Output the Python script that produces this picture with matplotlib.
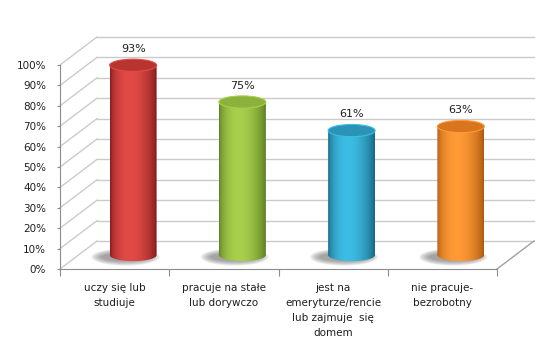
import matplotlib
matplotlib.use("Agg")
import matplotlib.pyplot as plt
import numpy as np
from matplotlib.patches import Ellipse, Polygon
from matplotlib.colors import to_rgb

# data
categories = ["uczy się lub\nstudiuje", "pracuje na stałe\nlub dorywczo",
              "jest na\nemeryturze/rencie\nlub zajmuje  się\ndomem",
              "nie pracuje-\nbezrobotny"]
values = [0.93, 0.75, 0.61, 0.63]
labels = ["93%", "75%", "61%", "63%"]
ticks = np.arange(0, 1.01, 0.1)
tick_labels = ["%d%%" % round(t * 100) for t in ticks]

# cylinder colours: (dark edge, light centre, top cap)
colors = [("#7a1a1a", "#e24a46", "#b83430"),
          ("#5a7a22", "#a8d04c", "#8db23c"),
          ("#17627c", "#3cbde3", "#2b93b5"),
          ("#a9560e", "#ff9a35", "#d9741f")]

fig = plt.figure(figsize=(5.38, 3.49), dpi=100)
ax = fig.add_axes([60 / 538, 80 / 349, 437 / 538, 204 / 349])
ax.set_xlim(-0.5, 3.5)
ax.set_ylim(0, 1)

# depth offset of the back wall (data units)
ddx = 37 / 109.25
ddy = 28 / 204.0
grid_c = "#cbcbcb"

for t in ticks:
    ax.plot([-0.5, -0.5 + ddx], [t, t + ddy], color=grid_c, lw=1, clip_on=False, zorder=1)
    ax.plot([-0.5 + ddx, 3.5 + ddx], [t + ddy, t + ddy], color=grid_c, lw=1, clip_on=False, zorder=1)
ax.plot([3.5, 3.5 + ddx], [0, ddy], color="#a0a0a0", lw=1, clip_on=False, zorder=1)

# cylinders
bw = 0.43
eh = 0.06
th = np.linspace(0, np.pi, 60)
for i, (v, (dark, light, cap)) in enumerate(zip(values, colors)):
    cx = i + ddx / 2
    base = ddy / 2
    top = v + base
    x0, x1 = cx - bw / 2, cx + bw / 2

    # shadow
    for k in range(7):
        ax.add_patch(Ellipse((cx - 0.07, base - 0.01), bw * (1.45 - k * 0.07), eh * (1.4 - k * 0.12),
                             color="#606060", alpha=0.11, lw=0, clip_on=False, zorder=2))

    # body outline: bottom half ellipse + vertical sides
    bx = cx - (bw / 2) * np.cos(th)
    by = base - (eh / 2) * np.sin(th)
    pts = np.column_stack([np.r_[x0, bx, x1], np.r_[top, by, top]])
    body = Polygon(pts, closed=True, fc="none", ec="none", transform=ax.transData)
    ax.add_patch(body)

    tt = np.linspace(0, 1, 200)
    g = np.sin(np.pi * tt ** 0.8) ** 0.7
    d, l = np.array(to_rgb(dark)), np.array(to_rgb(light))
    grad = d[None, :] + (l - d)[None, :] * g[:, None]
    img = ax.imshow(grad[None, :, :], extent=(x0, x1, base - eh, top), aspect="auto",
                    zorder=3, interpolation="bilinear")
    img.set_clip_path(body)

    ax.add_patch(Ellipse((cx, top), bw, eh, fc=cap, ec=light, lw=0.8, clip_on=False, zorder=4))
    ax.text(cx, top + 0.08, labels[i], ha="center", va="center", fontsize=8,
            color="#1f1f1f", zorder=5)

ax.set_xlim(-0.5, 3.5)
ax.set_ylim(0, 1)

# axes
for s in ["top", "right"]:
    ax.spines[s].set_visible(False)
for s in ["left", "bottom"]:
    ax.spines[s].set_color("#8c8c8c")
    ax.spines[s].set_zorder(1)
ax.patch.set_visible(False)

ax.set_yticks(ticks)
ax.set_yticklabels(tick_labels, fontsize=7.5, color="#1f1f1f")
ax.tick_params(axis="y", length=2, color="#8c8c8c", pad=8)

ax.set_xticks(np.arange(-0.5, 3.6, 1.0))
ax.set_xticklabels([])
ax.tick_params(axis="x", which="major", length=5, color="#8c8c8c")
ax.set_xticks(np.arange(4), minor=True)
ax.set_xticklabels(categories, minor=True, fontsize=7.5, color="#1f1f1f", linespacing=1.65)
ax.tick_params(axis="x", which="minor", length=0, pad=10)

fig.savefig("out.png", dpi=100)
